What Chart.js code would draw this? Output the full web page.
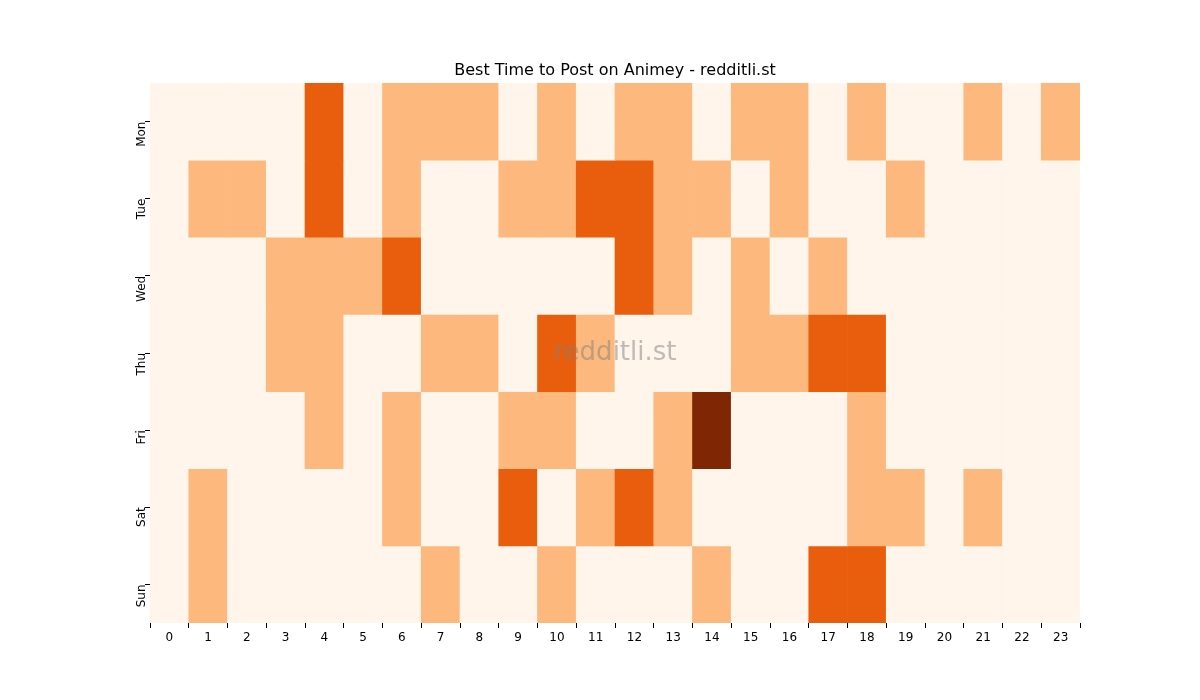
<!DOCTYPE html>
<html>
<head>
<meta charset="utf-8">
<script src="https://cdn.jsdelivr.net/npm/chart.js@4.4.0/dist/chart.umd.min.js"></script>
<style>body{margin:0;background:#fff}#wrap{width:1200px;height:700px}</style>
</head>
<body>
<div id="wrap"><canvas id="c"></canvas></div>
<script>
const hours = ['0','1','2','3','4','5','6','7','8','9','10','11','12','13','14','15','16','17','18','19','20','21','22','23'];
const days = ['Mon','Tue','Wed','Thu','Fri','Sat','Sun'];
// activity level per hour (0..3)
const mon = [0,0,0,0,2,0,1,1,1,0,1,0,1,1,0,1,1,0,1,0,0,1,0,1];
const tue = [0,1,1,0,2,0,1,0,0,1,1,2,2,1,1,0,1,0,0,1,0,0,0,0];
const wed = [0,0,0,1,1,1,2,0,0,0,0,0,2,1,0,1,0,1,0,0,0,0,0,0];
const thu = [0,0,0,1,1,0,0,1,1,0,2,1,0,0,0,1,1,2,2,0,0,0,0,0];
const fri = [0,0,0,0,1,0,1,0,0,1,1,0,0,1,3,0,0,0,1,0,0,0,0,0];
const sat = [0,1,0,0,0,0,1,0,0,2,0,1,2,1,0,0,0,0,1,1,0,1,0,0];
const sun = [0,1,0,0,0,0,0,1,0,0,1,0,0,0,1,0,0,2,2,0,0,0,0,0];
const rows = [mon,tue,wed,thu,fri,sat,sun];
const palette = ['#fff5eb','#fdb97d','#e95e0d','#7f2704'];

const datasets = rows.map((r,d)=>({
  label: days[d],
  data: r.map(()=>[d, d+1]),
  backgroundColor: r.map(v=>palette[v]),
  borderWidth: 0,
  barPercentage: 1,
  categoryPercentage: 1,
  grouped: false
}));

const overlay = {
  id: 'overlay',
  afterDraw(chart){
    const {ctx, chartArea:a} = chart;
    ctx.save();
    ctx.fillStyle = '#000';
    ctx.font = '16px "DejaVu Sans"';
    ctx.textAlign = 'center';
    ctx.textBaseline = 'bottom';
    ctx.fillText('Best Time to Post on Animey - redditli.st', (a.left+a.right)/2, a.top-4);
    ctx.fillStyle = 'rgba(128,128,128,0.5)';
    ctx.font = '26px "DejaVu Sans"';
    ctx.textBaseline = 'middle';
    ctx.fillText('redditli.st', (a.left+a.right)/2, (a.top+a.bottom)/2);
    ctx.restore();
  }
};

new Chart(document.getElementById('c'), {
  type: 'bar',
  data: { labels: hours, datasets },
  options: {
    responsive: true, maintainAspectRatio: false, animation: false,
    layout: { padding: { top: 83, right: 120, left: 0, bottom: 0 } },
    plugins: { legend: { display: false }, tooltip: { enabled: false } },
    scales: {
      x: {
        grid: { drawOnChartArea: false, tickLength: 5, color: '#000' },
        border: { display: false },
        ticks: { color: '#000', font: { size: 12, family: 'DejaVu Sans' }, maxRotation: 0 },
        afterFit(s){ s.height = 77; }
      },
      y: {
        reverse: true, min: 0, max: 7,
        grid: { drawOnChartArea: false, tickLength: 5, color: '#000' },
        border: { display: false },
        afterBuildTicks(s){ s.ticks = days.map((_,i)=>({value: i+0.5})); },
        ticks: {
          color: '#000', font: { size: 12, family: 'DejaVu Sans' },
          minRotation: 90, maxRotation: 90,
          callback: (v)=>days[Math.floor(v)]
        },
        afterFit(s){ s.width = 150; }
      }
    }
  },
  plugins: [overlay]
});
</script>
</body>
</html>
